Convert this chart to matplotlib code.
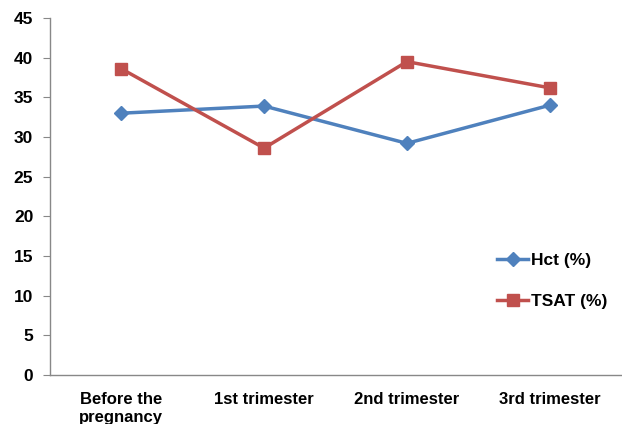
import matplotlib.pyplot as plt

# stages of pregnancy and the two measured series
stages = ['Before the\npregnancy', '1st trimester', '2nd trimester', '3rd trimester']
hct = [33.0, 33.9, 29.2, 34.0]
tsat = [38.6, 28.6, 39.5, 36.2]

plt.rcParams['font.family'] = ['Liberation Sans', 'DejaVu Sans']
plt.rcParams['font.weight'] = 'bold'

fig = plt.figure(figsize=(6.22, 4.24), dpi=100)
ax = fig.add_axes([50 / 622, 49 / 424, 571 / 622, 357 / 424])

x = range(len(stages))
ax.plot(x, hct, color='#4F81BD', lw=2.5, marker='D', ms=7, label='Hct (%)')
ax.plot(x, tsat, color='#C0504D', lw=2.5, marker='s', ms=9, label='TSAT (%)')

ax.set_xlim(-0.5, len(stages) - 0.5)
ax.set_ylim(0, 45)
ax.set_yticks(range(0, 46, 5))
ax.set_xticks(list(x))
ax.set_xticklabels(stages, fontsize=12, fontweight='bold', va='top', linespacing=1.25)
ax.tick_params(axis='y', labelsize=12.5, length=5, color='#888888', pad=7)
ax.tick_params(axis='x', length=0, pad=12)

for s in ['top', 'right']:
    ax.spines[s].set_visible(False)
for s in ['left', 'bottom']:
    ax.spines[s].set_color('#888888')
    ax.spines[s].set_linewidth(1)

ax.legend(loc='center left', bbox_to_anchor=(497 / 622, 1 - 281 / 424),
          bbox_transform=fig.transFigure, frameon=False, borderpad=0,
          borderaxespad=0, handlelength=1.8, labelspacing=1.45, handletextpad=0.15,
          prop={'weight': 'bold', 'size': 12.5})

fig.savefig('out.png', dpi=100)
